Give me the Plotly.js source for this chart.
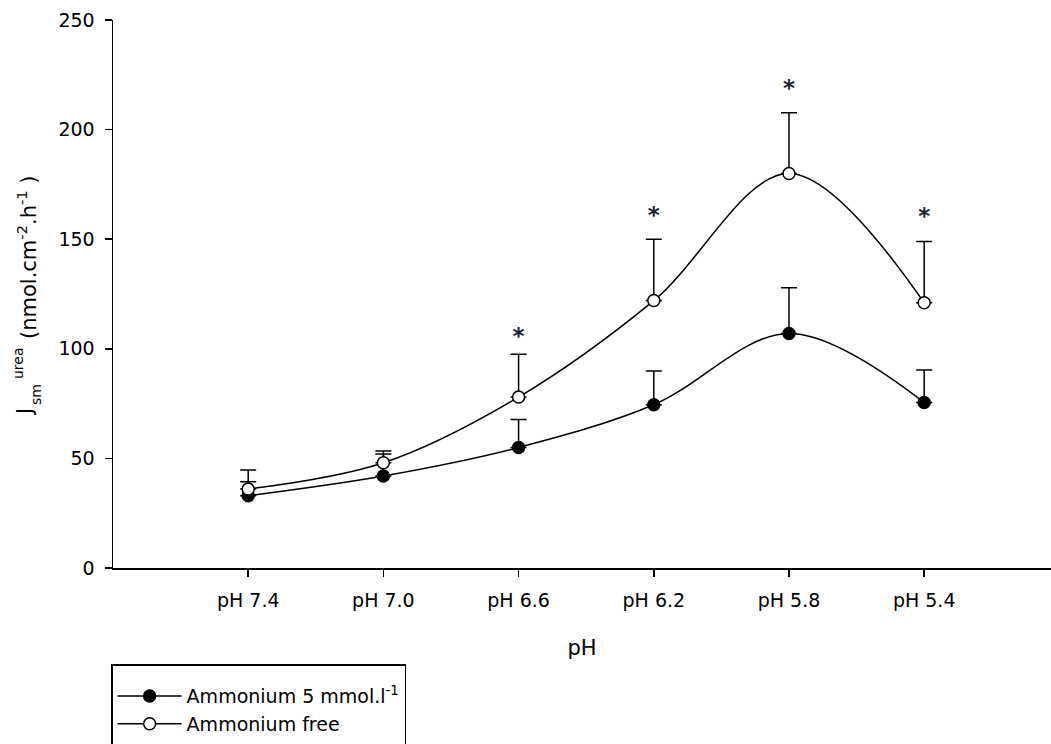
<!DOCTYPE html>
<html>
<head>
<meta charset="utf-8">
<script src="https://cdn.plot.ly/plotly-3.0.1.min.js"></script>
<style>html,body{margin:0;padding:0;background:#fff;}#chart{width:1051px;height:744px;}</style>
</head>
<body>
<div id="chart"></div>
<script>
// ---- data ----
var categories = ["pH 7.4", "pH 7.0", "pH 6.6", "pH 6.2", "pH 5.8", "pH 5.4"];
var ammoniumValues = [33, 42, 55, 74.5, 107, 75.5];
var ammoniumErrors = [6.4, 10, 12.8, 15.4, 20.9, 14.8];
var freeValues = [36, 48, 78, 122, 180, 121];
var freeErrors = [8.7, 5.4, 19.5, 28, 27.7, 27.9];
var significanceCategories = ["pH 6.6", "pH 6.2", "pH 5.8", "pH 5.4"];
var significanceY = [105, 160, 218, 159.5];
var seriesNames = ["Ammonium 5 mmol.l<sup>-1</sup>", "Ammonium free"];
var yTicks = [0, 50, 100, 150, 200, 250];

var FONT = "DejaVu Sans, sans-serif";
var zeros = ammoniumValues.map(function(){return 0;});

var traces = [
  {
    x: categories, y: ammoniumValues, name: seriesNames[0],
    type: "scatter", mode: "lines+markers",
    line: {shape: "spline", smoothing: 1, color: "#000", width: 1.5},
    marker: {symbol: "circle", size: 12, color: "#000", line: {color: "#000", width: 1.5}},
    error_y: {type: "data", symmetric: false, array: ammoniumErrors, arrayminus: zeros,
              color: "#000", thickness: 1.5, width: 8}
  },
  {
    x: categories, y: freeValues, name: seriesNames[1],
    type: "scatter", mode: "lines+markers",
    line: {shape: "spline", smoothing: 1, color: "#000", width: 1.5},
    marker: {symbol: "circle", size: 12, color: "#fff", line: {color: "#000", width: 1.5}},
    error_y: {type: "data", symmetric: false, array: freeErrors, arrayminus: zeros,
              color: "#000", thickness: 1.5, width: 8}
  },
  {
    x: significanceCategories, y: significanceY, type: "scatter", mode: "text",
    text: significanceY.map(function(){return "*";}),
    textposition: "middle center",
    textfont: {family: FONT, size: 23, color: "#1c2233", weight: "bold"},
    showlegend: false, hoverinfo: "skip", cliponaxis: false
  },
  {
    x: [null], y: [null], type: "scatter", mode: "lines", name: " ",
    line: {width: 0, color: "rgba(0,0,0,0)"}, showlegend: true, hoverinfo: "skip"
  }
];

function py(p){ return (568 - p) / 548; }

var layout = {
  width: 1051, height: 744,
  margin: {l: 113, r: 0, t: 20, b: 176, pad: 0, autoexpand: false},
  paper_bgcolor: "#fff", plot_bgcolor: "#fff",
  font: {family: FONT, size: 19, color: "#000"},
  showlegend: true,
  xaxis: {
    type: "category", categoryorder: "array", categoryarray: categories,
    range: [-1, 5.938], showgrid: false, zeroline: false,
    showline: true, linecolor: "#000", linewidth: 1.5,
    ticks: "outside", ticklen: 7, tickwidth: 1.5, tickcolor: "#000",
    ticklabelstandoff: 8,
    tickfont: {family: FONT, size: 19, color: "#000"},
    title: {text: "pH", font: {family: FONT, size: 21, color: "#000"}, standoff: 30},
    automargin: false, fixedrange: true
  },
  yaxis: {
    range: [0, 250], tickvals: yTicks, showgrid: false, zeroline: false,
    showline: true, linecolor: "#000", linewidth: 1.5,
    ticks: "outside", ticklen: 7, tickwidth: 1.5, tickcolor: "#000",
    ticklabelstandoff: 6,
    tickfont: {family: FONT, size: 19, color: "#000"},
    automargin: false, fixedrange: true
  },
  legend: {
    x: -0.002, y: py(664), xanchor: "left", yanchor: "top",
    bordercolor: "#000", borderwidth: 1.5, bgcolor: "#fff",
    font: {family: FONT, size: 19, color: "#000"},
    title: {text: " ", font: {family: FONT, size: 9, color: "#000"}},
    itemwidth: 64, tracegroupgap: 0
  },
  annotations: [
    {xref: "paper", yref: "paper", x: 0, y: py(412), xshift: -88, text: "J",
     textangle: -90, showarrow: false, xanchor: "center", yanchor: "middle",
     font: {family: FONT, size: 21, color: "#000"}},
    {xref: "paper", yref: "paper", x: 0, y: py(395), xshift: -77, text: "sm",
     textangle: -90, showarrow: false, xanchor: "center", yanchor: "middle",
     font: {family: FONT, size: 14, color: "#000"}},
    {xref: "paper", yref: "paper", x: 0, y: py(363), xshift: -95, text: "urea",
     textangle: -90, showarrow: false, xanchor: "center", yanchor: "middle",
     font: {family: FONT, size: 14, color: "#000"}},
    {xref: "paper", yref: "paper", x: 0, y: py(257), xshift: -86,
     text: "(nmol.cm<sup>-2</sup>.h<sup>-1</sup> )",
     textangle: -90, showarrow: false, xanchor: "center", yanchor: "middle",
     font: {family: FONT, size: 21, color: "#000"}}
  ]
};

Plotly.newPlot("chart", traces, layout, {displayModeBar: false, staticPlot: true});
</script>
</body>
</html>
